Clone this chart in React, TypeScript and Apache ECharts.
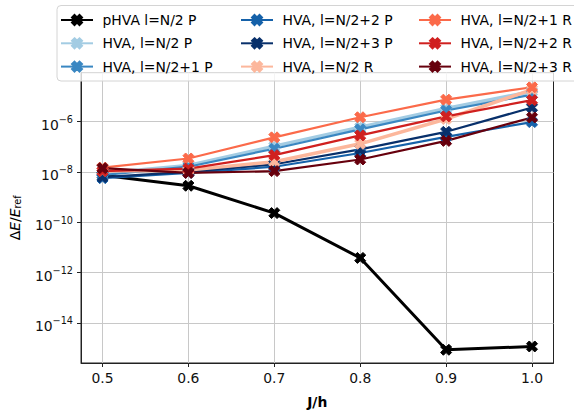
import React, { useEffect, useRef } from "react";
import * as echarts from "echarts";

const xValues = [0.5, 0.6, 0.7, 0.8, 0.9, 1.0];
const xTickValues = [0.5, 0.6, 0.7, 0.8, 0.9, 1.0];
const yTickExponents = [-14, -12, -10, -8, -6];

const seriesNames = [
  "pHVA l=N/2 P",
  "HVA, l=N/2 P",
  "HVA, l=N/2+1 P",
  "HVA, l=N/2+2 P",
  "HVA, l=N/2+3 P",
  "HVA, l=N/2 R",
  "HVA, l=N/2+1 R",
  "HVA, l=N/2+2 R",
  "HVA, l=N/2+3 R",
];

const pHVA_N2_P = [7.4e-9, 2.8e-9, 2.3e-10, 3.8e-12, 8.5e-16, 1.15e-15];
const HVA_N2_P = [8.9e-9, 1.8e-8, 1.05e-7, 6.0e-7, 3.3e-6, 1.55e-5];
const HVA_N2p1_P = [7.4e-9, 1.6e-8, 8.3e-8, 4.9e-7, 2.75e-6, 1.17e-5];
const HVA_N2p2_P = [5.6e-9, 9.1e-9, 1.6e-8, 5.6e-8, 2.45e-7, 9.5e-7];
const HVA_N2p3_P = [6.2e-9, 1.0e-8, 2.0e-8, 7.8e-8, 3.9e-7, 3.6e-6];
const HVA_N2_R = [1.07e-8, 1.17e-8, 2.5e-8, 1.3e-7, 1.26e-6, 1.86e-5];
const HVA_N2p1_R = [1.48e-8, 3.4e-8, 2.35e-7, 1.48e-6, 7.4e-6, 2.3e-5];
const HVA_N2p2_R = [1.07e-8, 1.35e-8, 4.6e-8, 2.8e-7, 1.6e-6, 7.1e-6];
const HVA_N2p3_R = [1.4e-8, 9.1e-9, 1.07e-8, 3.1e-8, 1.7e-7, 1.45e-6];

const seriesValues = [
  pHVA_N2_P,
  HVA_N2_P,
  HVA_N2p1_P,
  HVA_N2p2_P,
  HVA_N2p3_P,
  HVA_N2_R,
  HVA_N2p1_R,
  HVA_N2p2_R,
  HVA_N2p3_R,
];

const seriesColors = [
  "#000000",
  "#a3cce3",
  "#3a87c2",
  "#1561a9",
  "#08306b",
  "#fcb79c",
  "#fb6a4a",
  "#d0201f",
  "#67000d",
];

const seriesLineWidths = [3, 3.5, 2.2, 2.2, 2.2, 3.5, 2.2, 2.2, 2.2];

const FONT = "DejaVu Sans";
const FS = 13.9;
const X_SYMBOL = "path://M1 0L2 1L3 0L4 1L3 2L4 3L3 4L2 3L1 4L0 3L1 2L0 1Z";

export default function App() {
  const ref = useRef<HTMLDivElement>(null);

  useEffect(() => {
    if (!ref.current) return;
    const chart = echarts.init(ref.current, undefined, { renderer: "svg" });

    const series = seriesNames.map((name, i) => ({
      name,
      type: "line",
      data: xValues.map((x, j) => [x, Math.log10(seriesValues[i][j])]),
      symbol: X_SYMBOL,
      symbolSize: 11,
      color: seriesColors[i],
      lineStyle: { width: seriesLineWidths[i], color: seriesColors[i] },
      itemStyle: { color: seriesColors[i], borderColor: seriesColors[i], borderWidth: 1 },
      emphasis: { disabled: true },
      z: 2,
    }));

    const legendCommon = {
      orient: "vertical",
      top: 7,
      itemWidth: 32,
      itemHeight: 12.5,
      itemGap: 7.3,
      selectedMode: false,
      textStyle: {
        fontFamily: FONT,
        fontSize: FS,
        color: "#000",
        lineHeight: 16,
        padding: [0, 0, 0, 4.5],
      },
      z: 5,
    };

    const option = {
      animation: false,
      backgroundColor: "#fff",
      textStyle: { fontFamily: FONT },
      grid: {
        left: 79,
        right: 20.5,
        top: 72.7,
        bottom: 50,
        show: true,
        borderColor: "#222",
        borderWidth: 1,
        backgroundColor: "transparent",
      },
      legend: [
        { ...legendCommon, left: 55, data: seriesNames.slice(0, 3) },
        { ...legendCommon, left: 235, data: seriesNames.slice(3, 6) },
        { ...legendCommon, left: 413, data: seriesNames.slice(6, 9) },
      ],
      graphic: [
        {
          type: "rect",
          z: 4,
          shape: { x: 57, y: 5.5, width: 540, height: 75.5, r: 4 },
          style: { fill: "rgba(255,255,255,0.8)", stroke: "#d4d4d4", lineWidth: 1 },
        },
      ],
      xAxis: {
        type: "value",
        min: 0.475,
        max: 1.025,
        minInterval: 0.1,
        maxInterval: 0.1,
        name: "J/h",
        nameLocation: "middle",
        nameGap: 32,
        nameTextStyle: { fontFamily: FONT, fontSize: FS, fontWeight: "bold", color: "#000" },
        axisLine: { show: true, lineStyle: { color: "#222", width: 1 } },
        axisTick: {
          show: true,
          length: 4,
          customValues: xTickValues,
          lineStyle: { color: "#222", width: 1 },
        },
        axisLabel: {
          customValues: xTickValues,
          margin: 8,
          fontFamily: FONT,
          fontSize: FS,
          color: "#111",
          formatter: (v: number) => v.toFixed(1),
        },
        splitLine: { show: true, lineStyle: { color: "#c8c8c8", width: 1 } },
      },
      yAxis: {
        type: "value",
        min: -15.596,
        max: -4.06,
        minInterval: 2,
        maxInterval: 2,
        name: "{d|Δ}{i|E}{d|/}{i|E}{sub|ref}",
        nameLocation: "middle",
        nameGap: 52,
        nameTextStyle: {
          fontFamily: FONT,
          color: "#000",
          rich: {
            d: { fontFamily: FONT, fontSize: FS, lineHeight: 14, padding: [0, 0, 2, 0], verticalAlign: "top", color: "#000" },
            i: { fontFamily: FONT, fontSize: FS, fontStyle: "italic", lineHeight: 14, padding: [0, 0, 2, 0], verticalAlign: "top", color: "#000" },
            sub: { fontFamily: FONT, fontSize: 9.7, lineHeight: 10, verticalAlign: "bottom", color: "#000" },
          },
        },
        axisLine: { show: true, lineStyle: { color: "#222", width: 1 } },
        axisTick: {
          show: true,
          length: 4,
          customValues: yTickExponents,
          lineStyle: { color: "#222", width: 1 },
        },
        axisLabel: {
          customValues: yTickExponents,
          margin: 8,
          fontFamily: FONT,
          color: "#111",
          formatter: (v: number) => `{b|10}{s|−${Math.abs(Math.round(v))}}`,
          rich: {
            b: { fontFamily: FONT, fontSize: FS, lineHeight: 14, padding: [3, 0, 3, 0], verticalAlign: "top", color: "#111" },
            s: { fontFamily: FONT, fontSize: 9.7, lineHeight: 10, verticalAlign: "top", color: "#111" },
          },
        },
        splitLine: { show: true, lineStyle: { color: "#c8c8c8", width: 1 } },
      },
      series,
    };

    chart.setOption(option as any);
    return () => chart.dispose();
  }, []);

  return (
    <div
      ref={ref}
      style={{ position: "fixed", left: 0, top: 0, width: 574, height: 414 }}
    />
  );
}
